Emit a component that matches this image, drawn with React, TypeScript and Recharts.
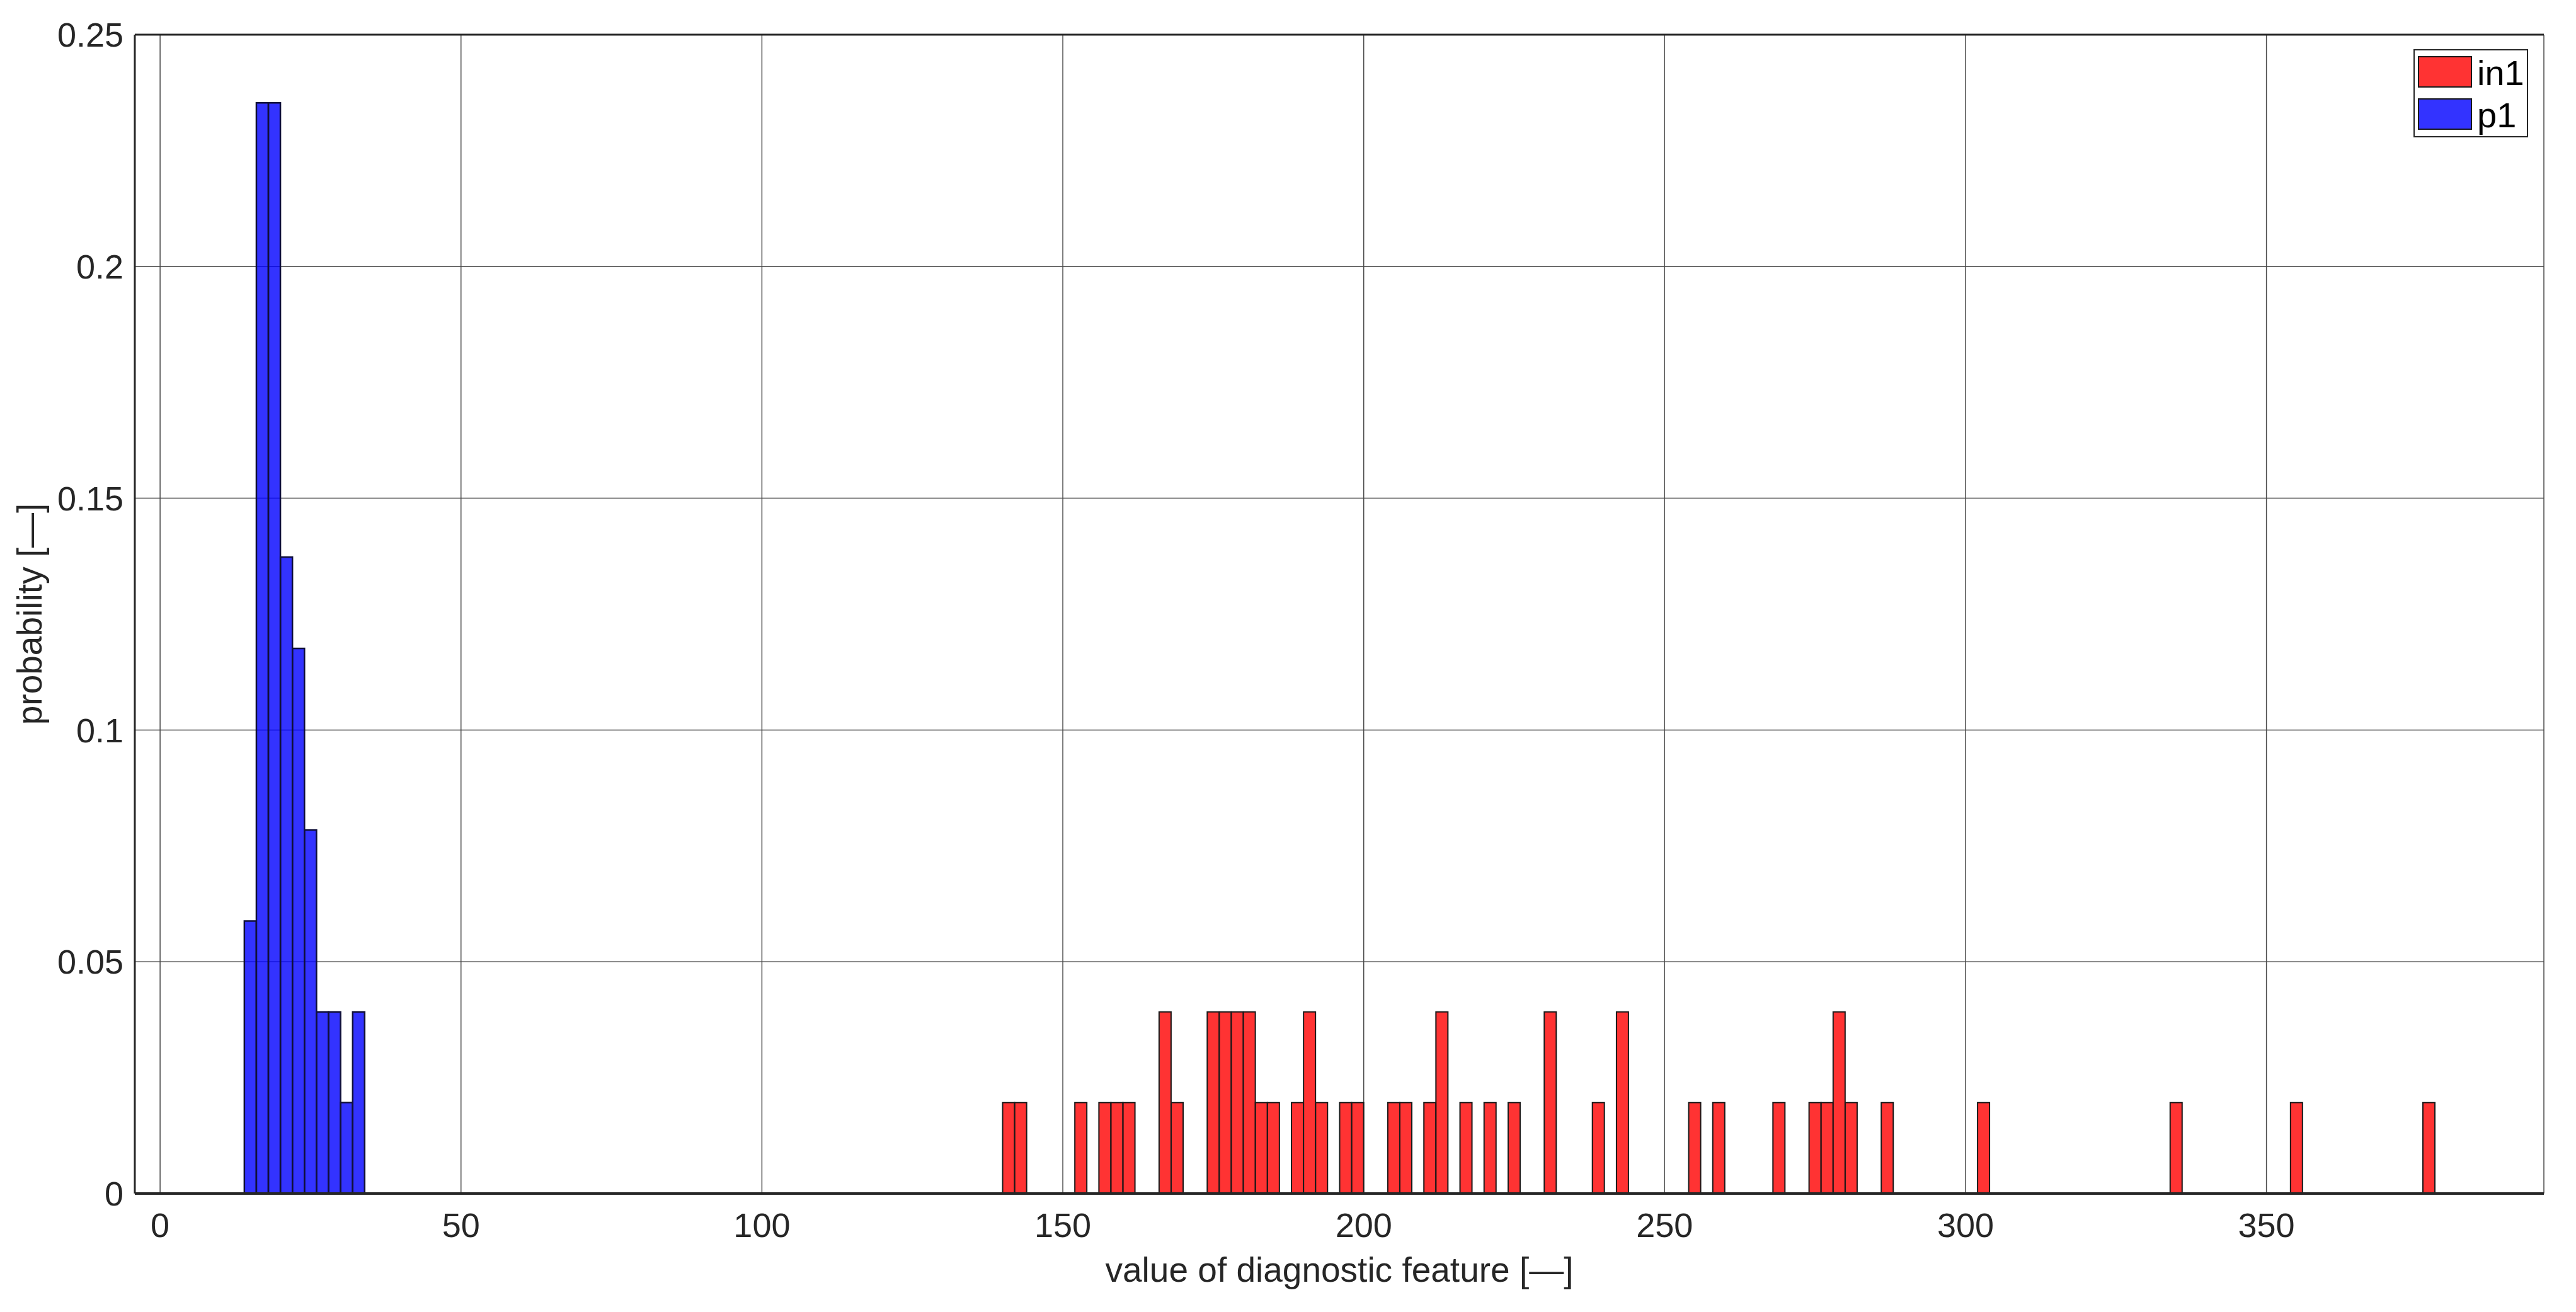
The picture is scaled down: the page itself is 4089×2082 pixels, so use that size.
import React from "react"
import { BarChart, Bar, XAxis, YAxis, CartesianGrid, Legend, ReferenceLine } from "recharts"

// histogram bins are 2 units wide, values given at bin centres
const P1_BIN_CENTERS = [15, 17, 19, 21, 23, 25, 27, 29, 31, 33]
const P1_PROB = [0.0588, 0.2353, 0.2353, 0.1373, 0.1176, 0.0784, 0.0392, 0.0392, 0.0196, 0.0392]

const IN1_BIN_CENTERS = [
  141, 143, 153, 157, 159, 161, 167, 169, 175, 177, 179, 181, 183, 185, 189, 191, 193, 197, 199, 205, 207,
  211, 213, 217, 221, 225, 231, 239, 243, 255, 259, 269, 275, 277, 279, 281, 287, 303, 335, 355, 377,
]
const IN1_PROB = [
  0.0196, 0.0196, 0.0196, 0.0196, 0.0196, 0.0196, 0.0392, 0.0196, 0.0392, 0.0392, 0.0392, 0.0392, 0.0196, 0.0196,
  0.0196, 0.0392, 0.0196, 0.0196, 0.0196, 0.0196, 0.0196, 0.0196, 0.0392, 0.0196, 0.0196, 0.0196, 0.0392, 0.0196,
  0.0392, 0.0196, 0.0196, 0.0196, 0.0196, 0.0196, 0.0392, 0.0196, 0.0196, 0.0196, 0.0196, 0.0196, 0.0196,
]

const X_TICKS = [0, 50, 100, 150, 200, 250, 300, 350]
const Y_TICKS = [0, 0.05, 0.1, 0.15, 0.2, 0.25]

const FONT = "'Liberation Sans', Arial, Helvetica, sans-serif"
const TEXT = "#262626"
const RED = "#ff0000"
const BLUE = "#0000ff"

const rows = [
  ...P1_BIN_CENTERS.map((x, i) => ({ x, p1: P1_PROB[i] })),
  ...IN1_BIN_CENTERS.map((x, i) => ({ x, in1: IN1_PROB[i] })),
]

function HistLegend(props: any) {
  const items = props.payload ?? []
  return (
    <svg width={182} height={140} style={{ display: "block" }}>
      <rect x={1} y={1} width={180} height={138} fill="#fff" stroke={TEXT} strokeWidth={2} />
      {items.map((item: any, i: number) => (
        <g key={item.value}>
          <rect
            x={8}
            y={12 + i * 67}
            width={84}
            height={48}
            fill={item.color}
            fillOpacity={0.8}
            stroke="#1a1a1a"
            strokeWidth={2}
          />
          <text x={101} y={57 + i * 67} fontSize={56} fontFamily={FONT} fill="#000">
            {item.value}
          </text>
        </g>
      ))}
    </svg>
  )
}

function XLabel({ viewBox }: any) {
  return (
    <text x={viewBox.x + viewBox.width / 2} y={viewBox.y + 140} textAnchor="middle" fontSize={55} fontFamily={FONT} fill={TEXT}>
      value of diagnostic feature [—]
    </text>
  )
}

function YLabel({ viewBox }: any) {
  const cx = viewBox.x + 2
  const cy = viewBox.y + viewBox.height / 2
  return (
    <text
      x={cx}
      y={cy}
      transform={`rotate(-90, ${cx}, ${cy})`}
      textAnchor="middle"
      fontSize={55}
      fontFamily={FONT}
      fill={TEXT}
    >
      probability [—]
    </text>
  )
}

export default function App() {
  return (
    <div style={{ position: "absolute", left: 0, top: 0, width: 4089, height: 2082, background: "#fff" }}>
      <BarChart
        width={4089}
        height={2082}
        data={rows}
        margin={{ top: 55, right: 51, bottom: 20, left: 64 }}
        barCategoryGap={0}
        barGap={0}
      >
        <CartesianGrid stroke="#4a4a4a" strokeWidth={1.5} />
        <XAxis
          dataKey="x"
          type="number"
          domain={[-4.2, 396.1]}
          allowDataOverflow
          ticks={X_TICKS}
          interval={0}
          height={168}
          tickLine={false}
          tickMargin={25}
          tick={{ fontSize: 54, fill: TEXT, fontFamily: FONT }}
          axisLine={{ stroke: TEXT, strokeWidth: 4 }}
          label={XLabel}
        />
        <YAxis
          type="number"
          domain={[0, 0.25]}
          ticks={Y_TICKS}
          interval={0}
          width={150}
          tickLine={false}
          tickMargin={12}
          tick={{ fontSize: 54, fill: TEXT, fontFamily: FONT }}
          axisLine={{ stroke: TEXT, strokeWidth: 3 }}
          label={YLabel}
        />
        <ReferenceLine y={0.25} stroke={TEXT} strokeWidth={3} />
        <Legend
          layout="vertical"
          align="center"
          verticalAlign="middle"
          content={HistLegend}
          wrapperStyle={{ left: 3831, top: 78, width: 182, height: 140 }}
        />
        <Bar
          dataKey="in1"
          name="in1"
          stackId="h"
          fill={RED}
          fillOpacity={0.8}
          stroke="#1a1a1a"
          strokeWidth={2}
          isAnimationActive={false}
        />
        <Bar
          dataKey="p1"
          name="p1"
          stackId="h"
          fill={BLUE}
          fillOpacity={0.8}
          stroke="#10103a"
          strokeWidth={2.5}
          isAnimationActive={false}
        />
      </BarChart>
    </div>
  )
}
